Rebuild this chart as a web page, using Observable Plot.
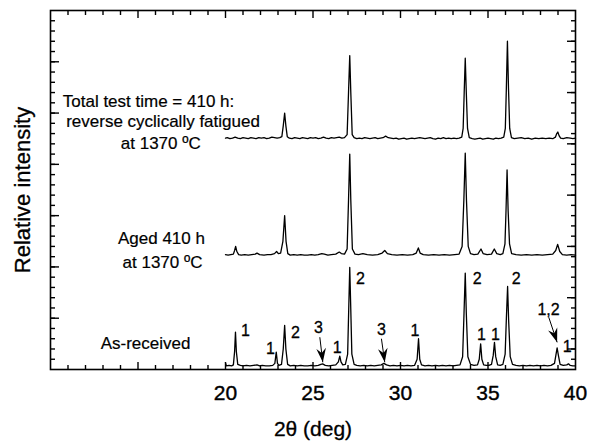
<!DOCTYPE html>
<html>
<head>
<meta charset="utf-8">
<script src="https://cdn.jsdelivr.net/npm/d3@7"></script>
<script src="https://cdn.jsdelivr.net/npm/@observablehq/plot@0.6"></script>
<style>
  html, body { margin: 0; padding: 0; background: #fff; }
  #chart { width: 596px; height: 441px; }
</style>
</head>
<body>
<div id="chart"></div>
<script>
// ---------- data ----------
const asReceived = [
  [20.0,0.13],[20.05,0.07],[20.2,0.08],[20.35,0.07],[20.45,0.09],[20.52,0.35],[20.57,0.73],[20.62,0.35],[20.7,0.10],
  [20.85,0.08],[21.0,0.07],[21.2,0.08],[21.4,0.07],[21.6,0.08],[21.8,0.09],[21.95,0.07],[22.1,0.08],[22.3,0.07],
  [22.5,0.07],[22.7,0.08],[22.82,0.12],[22.9,0.34],[22.97,0.12],[23.05,0.08],[23.2,0.10],[23.3,0.40],[23.38,0.86],
  [23.45,0.40],[23.55,0.10],[23.7,0.07],[23.9,0.08],[24.1,0.07],[24.3,0.08],[24.5,0.07],[24.7,0.07],[24.9,0.08],
  [25.1,0.07],[25.3,0.08],[25.45,0.10],[25.55,0.11],[25.7,0.08],[25.9,0.07],[26.1,0.08],[26.3,0.09],[26.45,0.15],
  [26.53,0.26],[26.6,0.15],[26.7,0.09],[26.85,0.10],[26.98,0.30],[27.05,1.3],[27.1,1.99],[27.15,1.3],[27.22,0.30],
  [27.35,0.10],[27.5,0.08],[27.7,0.07],[27.9,0.08],[28.1,0.07],[28.3,0.08],[28.5,0.07],[28.7,0.08],[28.9,0.09],
  [29.05,0.12],[29.2,0.09],[29.4,0.07],[29.6,0.08],[29.8,0.07],[30.0,0.08],[30.2,0.07],[30.4,0.08],[30.6,0.07],
  [30.8,0.08],[30.95,0.20],[31.03,0.60],[31.1,0.20],[31.2,0.09],[31.4,0.07],[31.6,0.08],[31.8,0.07],[32.0,0.08],
  [32.2,0.07],[32.4,0.08],[32.6,0.07],[32.8,0.08],[33.0,0.07],[33.2,0.08],[33.4,0.09],[33.55,0.25],[33.63,1.1],
  [33.7,1.88],[33.76,1.1],[33.85,0.25],[34.0,0.10],[34.2,0.08],[34.4,0.09],[34.5,0.20],[34.58,0.50],[34.65,0.20],
  [34.75,0.09],[34.9,0.08],[35.05,0.08],[35.2,0.10],[35.3,0.28],[35.37,0.53],[35.44,0.25],[35.55,0.09],[35.7,0.08],
  [35.85,0.10],[35.98,0.30],[36.05,1.0],[36.12,1.62],[36.18,0.95],[36.27,0.25],[36.4,0.10],[36.6,0.08],[36.8,0.07],
  [37.0,0.08],[37.2,0.07],[37.4,0.08],[37.6,0.07],[37.8,0.08],[38.0,0.07],[38.2,0.08],[38.4,0.07],[38.6,0.08],
  [38.8,0.12],[38.88,0.28],[38.95,0.42],[39.02,0.28],[39.12,0.10],[39.3,0.08],[39.5,0.09],[39.6,0.11],[39.7,0.08],
  [39.85,0.07],[40.0,0.07]
];

const aged = [
  [20.0,2.24],[20.15,2.23],[20.3,2.24],[20.45,2.25],[20.52,2.32],[20.58,2.40],[20.65,2.30],[20.75,2.24],[20.9,2.23],
  [21.1,2.24],[21.3,2.23],[21.5,2.24],[21.7,2.25],[21.8,2.27],[21.95,2.24],[22.2,2.23],[22.4,2.24],[22.6,2.24],
  [22.8,2.26],[22.92,2.30],[23.02,2.26],[23.15,2.27],[23.28,2.5],[23.38,3.0],[23.46,2.5],[23.56,2.26],[23.7,2.23],
  [23.9,2.24],[24.1,2.23],[24.3,2.24],[24.5,2.23],[24.7,2.23],[24.9,2.24],[25.1,2.23],[25.3,2.24],[25.5,2.26],
  [25.65,2.25],[25.85,2.23],[26.05,2.24],[26.3,2.25],[26.5,2.29],[26.62,2.26],[26.8,2.25],[26.95,2.35],[27.03,3.3],
  [27.1,4.2],[27.16,3.3],[27.25,2.35],[27.4,2.25],[27.6,2.24],[27.85,2.26],[28.1,2.24],[28.4,2.23],[28.7,2.24],
  [28.95,2.27],[29.1,2.32],[29.25,2.26],[29.5,2.24],[29.8,2.23],[30.1,2.24],[30.4,2.23],[30.7,2.24],[30.9,2.27],
  [31.02,2.37],[31.12,2.27],[31.3,2.24],[31.6,2.23],[31.9,2.24],[32.2,2.23],[32.5,2.24],[32.8,2.23],[33.1,2.24],
  [33.35,2.25],[33.52,2.4],[33.62,3.3],[33.7,4.22],[33.77,3.3],[33.87,2.4],[34.0,2.26],[34.2,2.24],[34.42,2.25],
  [34.6,2.35],[34.72,2.26],[34.95,2.24],[35.2,2.25],[35.36,2.35],[35.5,2.26],[35.7,2.24],[35.85,2.26],[35.97,2.45],
  [36.03,3.1],[36.09,3.89],[36.15,3.1],[36.23,2.45],[36.35,2.26],[36.6,2.24],[36.9,2.23],[37.2,2.24],[37.5,2.23],
  [37.8,2.24],[38.1,2.23],[38.4,2.24],[38.7,2.25],[38.87,2.32],[38.98,2.44],[39.1,2.3],[39.25,2.24],[39.5,2.23],
  [39.75,2.24],[40.0,2.23]
];

const fatigued = [
  [20.0,4.51],[20.1,4.52],[20.25,4.50],[20.4,4.51],[20.55,4.53],[20.7,4.51],[20.85,4.50],[21.0,4.52],[21.15,4.51],
  [21.3,4.50],[21.45,4.52],[21.6,4.51],[21.75,4.50],[21.9,4.52],[22.05,4.51],[22.2,4.52],[22.35,4.50],[22.5,4.51],
  [22.65,4.53],[22.8,4.52],[22.95,4.51],[23.1,4.52],[23.22,4.54],[23.3,4.75],[23.38,5.0],[23.45,4.75],[23.53,4.54],
  [23.65,4.51],[23.8,4.50],[23.95,4.52],[24.1,4.51],[24.25,4.50],[24.4,4.52],[24.55,4.51],[24.7,4.50],[24.85,4.52],
  [25.0,4.51],[25.15,4.52],[25.3,4.50],[25.45,4.51],[25.6,4.53],[25.75,4.51],[25.9,4.50],[26.05,4.52],[26.2,4.51],
  [26.35,4.52],[26.5,4.53],[26.65,4.51],[26.8,4.52],[26.95,4.58],[27.03,5.4],[27.1,6.12],[27.16,5.4],[27.24,4.58],
  [27.35,4.52],[27.5,4.50],[27.65,4.51],[27.8,4.50],[27.95,4.52],[28.1,4.51],[28.25,4.50],[28.4,4.51],[28.55,4.52],
  [28.7,4.50],[28.85,4.51],[29.0,4.52],[29.15,4.55],[29.3,4.52],[29.45,4.51],[29.6,4.50],[29.75,4.51],[29.9,4.49],
  [30.05,4.50],[30.2,4.51],[30.35,4.49],[30.5,4.50],[30.65,4.51],[30.8,4.50],[30.95,4.51],[31.1,4.52],[31.25,4.51],
  [31.4,4.50],[31.55,4.51],[31.7,4.52],[31.85,4.50],[32.0,4.49],[32.15,4.51],[32.3,4.50],[32.45,4.52],[32.6,4.50],
  [32.75,4.51],[32.9,4.50],[33.05,4.51],[33.2,4.50],[33.35,4.51],[33.5,4.53],[33.58,4.7],[33.64,5.4],[33.7,6.07],
  [33.76,5.4],[33.83,4.7],[33.93,4.52],[34.1,4.50],[34.25,4.49],[34.4,4.50],[34.55,4.51],[34.7,4.49],[34.85,4.50],
  [35.0,4.51],[35.15,4.50],[35.3,4.49],[35.45,4.51],[35.6,4.50],[35.75,4.51],[35.9,4.53],[35.99,4.7],[36.05,5.5],
  [36.11,6.4],[36.17,5.5],[36.24,4.7],[36.34,4.52],[36.5,4.50],[36.7,4.51],[36.9,4.52],[37.1,4.50],[37.3,4.51],
  [37.5,4.49],[37.7,4.51],[37.9,4.50],[38.1,4.51],[38.3,4.50],[38.5,4.51],[38.7,4.50],[38.85,4.53],[38.93,4.60],
  [38.99,4.63],[39.06,4.56],[39.15,4.51],[39.3,4.50],[39.5,4.52],[39.7,4.51],[39.85,4.50],[40.0,4.51]
];

// peak index labels (phase numbers) on the as-received pattern
const peakLabels = [
  {x:21.14,y:0.76,t:"1"},{x:22.57,y:0.41,t:"1"},{x:24.0,y:0.72,t:"2"},{x:25.31,y:0.82,t:"3"},
  {x:26.38,y:0.43,t:"1"},{x:27.71,y:1.77,t:"2"},{x:28.91,y:0.78,t:"3"},{x:30.82,y:0.76,t:"1"},
  {x:34.38,y:1.77,t:"2"},{x:34.63,y:0.68,t:"1"},{x:35.43,y:0.68,t:"1"},{x:36.61,y:1.77,t:"2"},
  {x:38.46,y:1.17,t:"1,2"},{x:39.53,y:0.45,t:"1"}
];

// arrows pointing to weak peaks
const arrows = [
  {x1:25.39,y1:0.63,x2:25.56,y2:0.14},
  {x1:28.91,y1:0.60,x2:29.10,y2:0.14},
  {x1:38.47,y1:1.02,x2:38.95,y2:0.53}
];

// trace captions
const captions = [
  {x:15.6, y:5.23, t:"Total test time = 410 h:"},
  {x:16.43,y:4.83, t:"reverse cyclically fatigued"},
  {x:16.3, y:4.41, t:"at 1370 \u00baC"},
  {x:16.34,y:2.55, t:"Aged 410 h"},
  {x:16.4, y:2.09, t:"at 1370 \u00baC"},
  {x:15.43,y:0.51, t:"As-received"}
];

const xTickLabels = [20, 25, 30, 35, 40];
const xMajorTicks = [15, 20, 25, 30, 35];
const xMinorTicks = d3.range(11, 40).filter(d => d % 5 !== 0);
const yMajorLeft = [1, 2, 3, 4, 5, 6];
const yMajorRight = [0.4, 1.4, 2.4, 3.4, 4.4, 5.4, 6.4];
const yMinor = d3.range(1, 35).map(i => i / 5);
const xLabel = "2\u03b8 (deg)";
const yLabel = "Relative intensity";

// ---------- layout ----------
const W = 596, H = 441, mL = 50, mR = 21, mT = 10, mB = 72;
const kx = (W - mL - mR) / 30, ky = (H - mT - mB) / 7;
const arrowData = arrows.map(a => ({...a,
  rot: Math.atan2(-(a.x2 - a.x1) * kx, (a.y1 - a.y2) * ky) * 180 / Math.PI}));

// barbed, filled arrow head with its tip at the origin, pointing down
const arrowHead = {
  draw(ctx, size) {
    const s = Math.sqrt(size / Math.PI) / 6;
    ctx.moveTo(0, 0);
    ctx.lineTo(-4.8 * s, -14 * s);
    ctx.lineTo(0, -9.5 * s);
    ctx.lineTo(4.8 * s, -14 * s);
    ctx.closePath();
  }
};

const font = "'Liberation Sans', Arial, Helvetica, sans-serif";
const tickSW = 1.4;

const chart = Plot.plot({
  width: W, height: H,
  marginLeft: mL, marginRight: mR, marginTop: mT, marginBottom: mB,
  style: {fontFamily: font, background: "#fff", color: "#000"},
  x: {domain: [10, 40]},
  y: {domain: [0, 7]},
  marks: [
    // ticks pointing inward
    Plot.axisX(xMinorTicks, {anchor: "bottom", tickSize: -4, tickFormat: () => "", label: null, strokeWidth: tickSW}),
    Plot.axisX(xMajorTicks, {anchor: "bottom", tickSize: -7, tickFormat: () => "", label: null, strokeWidth: tickSW}),
    Plot.axisX(xMinorTicks, {anchor: "top", tickSize: -4, tickFormat: () => "", label: null, strokeWidth: tickSW}),
    Plot.axisX(xMajorTicks, {anchor: "top", tickSize: -7, tickFormat: () => "", label: null, strokeWidth: tickSW}),
    Plot.axisY(yMinor, {anchor: "left", tickSize: -5, tickFormat: () => "", label: null, strokeWidth: tickSW}),
    Plot.axisY(yMajorLeft, {anchor: "left", tickSize: -9, tickFormat: () => "", label: null, strokeWidth: tickSW}),
    Plot.axisY(yMinor, {anchor: "right", tickSize: -5, tickFormat: () => "", label: null, strokeWidth: tickSW}),
    Plot.axisY(yMajorRight, {anchor: "right", tickSize: -9, tickFormat: () => "", label: null, strokeWidth: tickSW}),
    // tick labels
    Plot.text(xTickLabels, {x: d => d, frameAnchor: "bottom", dy: 24, lineAnchor: "middle", textAnchor: "middle",
      text: d => String(d), fontSize: 21, fill: "#000", stroke: "#000", strokeWidth: 0.4}),
    // axis titles
    Plot.text([xLabel], {frameAnchor: "bottom", dy: 60, lineAnchor: "middle", textAnchor: "middle",
      text: d => d, fontSize: 21, fill: "#000", stroke: "#000", strokeWidth: 0.3}),
    Plot.text([yLabel], {frameAnchor: "left", dx: -28, rotate: -90, lineAnchor: "middle", textAnchor: "middle",
      text: d => d, fontSize: 22, fill: "#000", stroke: "#000", strokeWidth: 0.3}),
    // patterns
    Plot.line(asReceived, {stroke: "#000", strokeWidth: 1.3}),
    Plot.line(aged, {stroke: "#000", strokeWidth: 1.3}),
    Plot.line(fatigued, {stroke: "#000", strokeWidth: 1.3}),
    // annotations
    Plot.text(peakLabels, {x: "x", y: "y", text: "t", fontSize: 16, fill: "#000", stroke: "#000", strokeWidth: 0.3}),
    Plot.link(arrowData, {x1: "x1", y1: "y1", x2: "x2", y2: "y2", stroke: "#000", strokeWidth: 1}),
    Plot.dot(arrowData, {x: "x2", y: "y2", symbol: arrowHead, r: 6, fill: "#000", stroke: "none", rotate: "rot"}),
    Plot.text(captions, {x: "x", y: "y", text: "t", fontSize: 17, fill: "#000", stroke: "#000", strokeWidth: 0.2}),
    Plot.frame({stroke: "#000", strokeWidth: 1.6})
  ]
});
document.getElementById("chart").appendChild(chart);
</script>
</body>
</html>
